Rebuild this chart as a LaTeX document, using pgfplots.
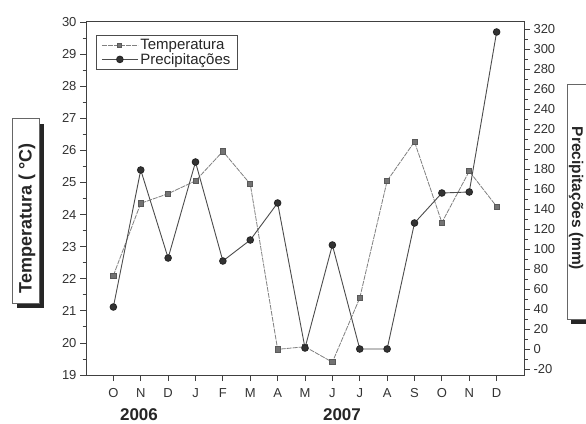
\documentclass[border=0pt]{standalone}
\usepackage{fontspec}
\setmainfont{Liberation Sans}
\usepackage{pgfplots}
\pgfplotsset{compat=1.18}
\pgfplotsset{
  tempstyle/.style={color=black!50, line width=0.8pt, dash pattern=on 5pt off 1pt,
    mark=square*, mark size=2.6pt, mark options={solid, fill=black!55, draw=black!65}},
  precstyle/.style={color=black!70, line width=0.9pt,
    mark=*, mark size=3.3pt, mark options={solid, fill=black!80, draw=black!85}},
  legend image code/.code={\draw[mark repeat=2,mark phase=2,#1] plot coordinates {(0pt,0pt) (18pt,0pt) (36pt,0pt)};},
}
\begin{document}
\begin{tikzpicture}[x=1pt,y=1pt]
\useasboundingbox (0pt,0pt) rectangle (586pt,423pt);
\fill[white] (0pt,0pt) rectangle (586pt,423pt);

\begin{axis}[
  at={(86pt,48pt)}, anchor=south west, scale only axis, width=438pt, height=353pt,
  xmin=-1, xmax=15, ymin=19, ymax=30,
  xtick={0,...,14}, xticklabels={O,N,D,J,F,M,A,M,J,J,A,S,O,N,D},
  ytick={19,...,30}, minor y tick num=1,
  xtick pos=bottom, ytick pos=left, tick align=outside,
  major tick length=6pt, minor tick length=3.5pt,
  axis line style={black!75, line width=1pt},
  tick style={black!75, line width=0.8pt},
  tick label style={font=\fontsize{13}{13}\selectfont, text=black!80},
  xticklabel style={yshift=-4pt},
  /pgf/number format/assume math mode=true,
  clip=false,
]
\addplot[tempstyle] coordinates {
(0,22.1) (1,24.35) (2,24.65) (3,25.05) (4,25.97) (5,24.95) (6,19.8) (7,19.88)
(8,19.4) (9,21.4) (10,25.05) (11,26.27) (12,23.75) (13,25.35) (14,24.25)};
\end{axis}

\begin{axis}[
  at={(86pt,48pt)}, anchor=south west, scale only axis, width=438pt, height=353pt,
  xmin=-1, xmax=15, ymin=-26, ymax=327,
  axis x line=none, axis y line*=right,
  ytick={-20,0,...,320}, minor y tick num=1, tick align=outside,
  major tick length=6pt, minor tick length=3.5pt,
  axis line style={black!75, line width=1pt},
  tick style={black!75, line width=0.8pt},
  tick label style={font=\fontsize{13}{13}\selectfont, text=black!80},
  /pgf/number format/assume math mode=true,
  legend style={at={(0.023,0.963)}, anchor=north west, draw=black!70, line width=0.7pt,
    font=\fontsize{15}{16}\selectfont, text=black!85, inner xsep=5pt, inner ysep=2pt, row sep=-2pt},
  legend cell align=left,
  clip=false,
]
\addlegendimage{tempstyle, mark size=2pt}\addlegendentry{Temperatura}
\addplot[precstyle] coordinates {
(0,42) (1,179) (2,91) (3,187) (4,88) (5,109) (6,146) (7,1)
(8,104) (9,0) (10,0) (11,126) (12,156) (13,157) (14,317)};
\addlegendentry{Precipitações}
\end{axis}

% left label box
\fill[black!85] (17pt,115pt) rectangle (44pt,299pt);
\draw[black!60, fill=white, line width=0.6pt] (12pt,120pt) rectangle (39pt,305pt);
\node[rotate=90, font=\fontsize{18}{18}\selectfont\bfseries, text=black!85] at (27pt,204.5pt) {Temperatura ( °C)};

% right label box
\fill[black!85] (571pt,99pt) rectangle (600pt,334pt);
\draw[black!60, fill=white, line width=0.6pt] (567pt,104pt) rectangle (594pt,339pt);
\node[rotate=-90, font=\fontsize{15.5}{15.5}\selectfont\bfseries, text=black!85] at (576pt,224.5pt) {Precipitações (mm)};

\node[inner sep=0pt, font=\fontsize{17}{17}\selectfont\bfseries, text=black!85] at (139pt,8pt) {2006};
\node[inner sep=0pt, font=\fontsize{17}{17}\selectfont\bfseries, text=black!85] at (342pt,8pt) {2007};
\end{tikzpicture}
\end{document}
